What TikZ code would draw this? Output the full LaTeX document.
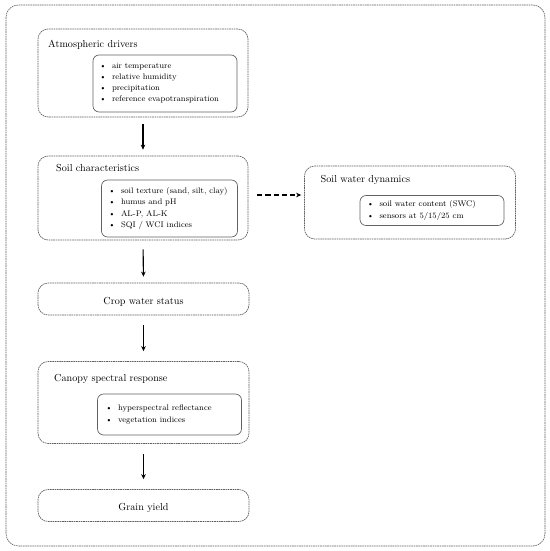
\documentclass[tikz,border=0pt]{standalone}
\usetikzlibrary{arrows.meta}
\newlength\pxu
\setlength\pxu{0.983pt}
\newcommand\itm{\textbullet\hspace{5.5pt}}
\begin{document}
\begin{tikzpicture}[x=\pxu,y=-\pxu,
  outerbox/.style={draw=black!62, dash pattern=on 1.6pt off 0.7pt, line width=0.65pt, rounded corners=10pt, inner sep=0pt},
  framebox/.style={draw=black!62, dash pattern=on 1.6pt off 0.7pt, line width=0.65pt, rounded corners=12pt},
  innerbox/.style={draw=black!62, line width=0.7pt, rounded corners=6pt, inner sep=0pt},
  flowarrow/.style={-{Stealth[length=5pt,width=4.5pt]}, line width=1.1pt},
  dasharrow/.style={flowarrow, dash pattern=on 5pt off 3pt},
  titletext/.style={anchor=base west, inner sep=0pt, font=\fontsize{10}{12}\selectfont},
  centertext/.style={anchor=base, inner sep=0pt, font=\fontsize{10}{12}\selectfont},
  items/.style={anchor=west, inner sep=0pt, align=left, font=\fontsize{8}{11}\selectfont}]
\useasboundingbox (0,0) rectangle (550,551);
\draw[framebox] (6,5) rectangle (545,546);

% Atmospheric drivers
\node[outerbox, minimum width=210\pxu, minimum height=88\pxu] (atm) at (143,73) {};
\node[titletext] (atmt) at (48,47.5) {Atmospheric drivers};
\node[innerbox, minimum width=144\pxu, minimum height=57\pxu] (atmi) at (165,83.5) {};
\node[items] (atml) at (99.5,83.3) {\itm air temperature\\ \itm relative humidity\\ \itm precipitation\\ \itm reference evapotranspiration};

% Soil characteristics
\node[outerbox, minimum width=210\pxu, minimum height=84\pxu] (soil) at (143,198) {};
\node[titletext] (soilt) at (56,171.5) {Soil characteristics};
\node[innerbox, minimum width=136\pxu, minimum height=57\pxu] (soili) at (169.5,208.5) {};
\node[items] (soill) at (108.5,208.4) {\itm soil texture (sand, silt, clay)\\ \itm humus and pH\\ \itm AL-P, AL-K\\ \itm SQI / WCI indices};

% Soil water dynamics
\node[outerbox, minimum width=211\pxu, minimum height=73\pxu] (swd) at (410,202.5) {};
\node[titletext] (swdt) at (320.5,182) {Soil water dynamics};
\node[innerbox, minimum width=144\pxu, minimum height=30\pxu] (swdi) at (432,210.5) {};
\node[items] (swdl) at (367,210.5) {\itm soil water content (SWC)\\ \itm sensors at 5/15/25 cm};

% Crop water status
\node[outerbox, minimum width=211\pxu, minimum height=32\pxu] (crop) at (143.5,299) {};
\node[centertext] (cropt) at (143.5,304) {Crop water status};

% Canopy spectral response
\node[outerbox, minimum width=211\pxu, minimum height=82\pxu] (can) at (143.5,402.5) {};
\node[titletext] (cant) at (54,381) {Canopy spectral response};
\node[innerbox, minimum width=144\pxu, minimum height=41\pxu] (cani) at (169.5,414.5) {};
\node[items] (canl) at (105.5,414.5) {\itm hyperspectral reflectance\\ \itm vegetation indices};

% Grain yield
\node[outerbox, minimum width=211\pxu, minimum height=32\pxu] (grain) at (143.5,505.5) {};
\node[centertext] (graint) at (143.5,510) {Grain yield};

% Connectors
\draw[flowarrow, shorten <=7\pxu, shorten >=6\pxu] (atm.south) -- (soil.north);
\draw[flowarrow, shorten <=9\pxu, shorten >=6\pxu] (soil.south) -- (crop.north);
\draw[flowarrow, shorten <=10\pxu, shorten >=10\pxu] (crop.south) -- (can.north);
\draw[flowarrow, shorten <=10\pxu, shorten >=10\pxu] (can.south) -- (grain.north);
\draw[dasharrow, shorten <=9\pxu, shorten >=3\pxu] ([yshift=3\pxu]soil.east) -- ([yshift=3\pxu]soil.east -| swd.west);
\end{tikzpicture}
\end{document}
